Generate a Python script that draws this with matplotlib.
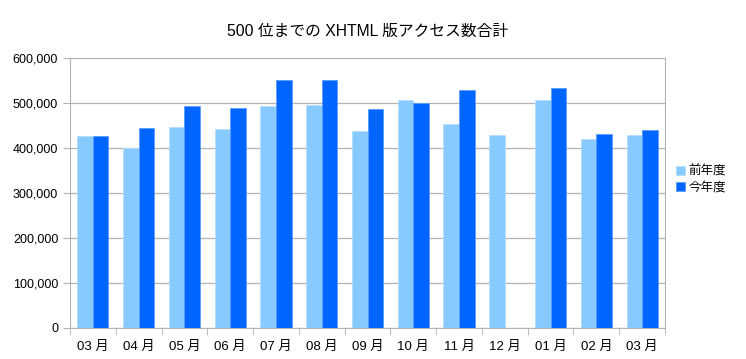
import numpy as np
import matplotlib.pyplot as plt
from matplotlib.ticker import FuncFormatter, MultipleLocator

plt.rcParams['font.family'] = ['Liberation Sans', 'Noto Sans CJK JP', 'DejaVu Sans']

months = ['03 月', '04 月', '05 月', '06 月', '07 月', '08 月', '09 月',
          '10 月', '11 月', '12 月', '01 月', '02 月', '03 月']
prev_year = [427000, 401000, 447000, 443000, 494000, 495000, 438000,
             506000, 453000, 428000, 507000, 420000, 428000]
this_year = [427000, 445000, 494000, 489000, 551000, 551000, 487000,
             501000, 529000, np.nan, 533000, 432000, 441000]

fig = plt.figure(figsize=(7.46, 3.59), dpi=100)
ax = fig.add_axes([70/746, 1-328/359, 595/746, 270/359])

x = np.arange(len(months))
w = 0.34
ax.bar(x - w/2, prev_year, w, color='#87CAFF', edgecolor='#B5DEFF', linewidth=0.6,
       label='前年度', zorder=3)
ax.bar(x + w/2, this_year, w, color='#0066FF', edgecolor='#5A9CFF', linewidth=0.6,
       label='今年度', zorder=3)

ax.set_xlim(-0.5, len(months) - 0.5)
ax.set_ylim(0, 600000)
ax.yaxis.set_major_locator(MultipleLocator(100000))
ax.yaxis.set_major_formatter(FuncFormatter(lambda v, p: f'{int(v):,}'))
ax.grid(axis='y', color='#B3B3B3', linewidth=0.9, zorder=0)

ax.set_xticks(x)
ax.set_xticklabels(months)
ax.set_xticks(np.arange(-0.5, len(months)), minor=True)
ax.tick_params(axis='x', which='major', length=0, pad=9, labelsize=9.5)
ax.tick_params(axis='x', which='minor', length=5, color='#B3B3B3')
ax.tick_params(axis='y', length=5, color='#B3B3B3', labelsize=9)
for s in ax.spines.values():
    s.set_color('#B3B3B3')

ax.set_title('500 位までの XHTML 版アクセス数合計', fontsize=11.3, pad=16)

ax.legend(loc='center left', bbox_to_anchor=(1.01, 0.55), frameon=False,
          fontsize=9, handlelength=0.7, handleheight=0.7, handletextpad=0.3,
          labelspacing=0.3, borderaxespad=0)

fig.savefig('out.png', dpi=100)
